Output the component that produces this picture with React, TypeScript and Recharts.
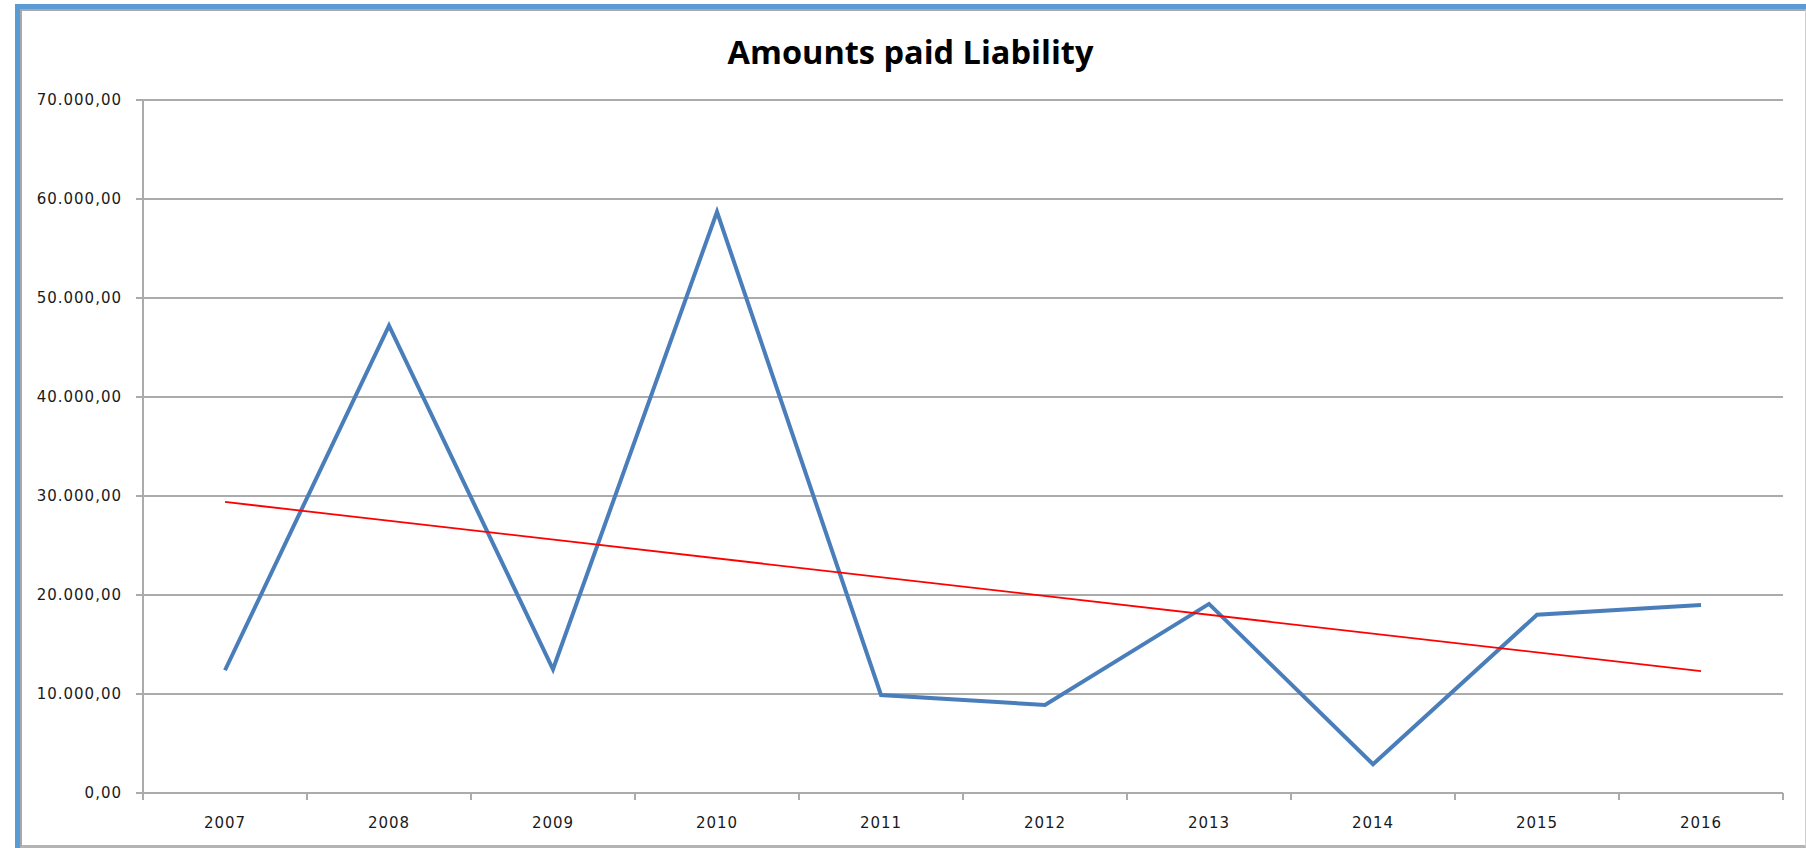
import { LineChart, Line, XAxis, YAxis, CartesianGrid } from "recharts";

const years = ["2007", "2008", "2009", "2010", "2011", "2012", "2013", "2014", "2015", "2016"];
const amounts = [12400, 47200, 12500, 58700, 9900, 8900, 19100, 2900, 18000, 19000];
// trendline ends; the middle stays empty and gets bridged
const trend = [29400, null, null, null, null, null, null, null, null, 12300];
const yTicks = [0, 10000, 20000, 30000, 40000, 50000, 60000, 70000];

const W = 1806;
const H = 848;
const margin = { top: 100, right: 23, bottom: 0, left: 0 };
const yAxisWidth = 143;
const xAxisHeight = 55;
const bandWidth = (W - margin.left - margin.right - yAxisWidth) / years.length;

const chartData = years.map((year, i) => ({
  year,
  amount: amounts[i],
  trend: trend[i],
}));

const fmt = (v: number) => {
  const whole = Math.floor(v)
    .toString()
    .replace(/\B(?=(\d{3})+(?!\d))/g, ".");
  return `${whole},00`;
};

const tickFont = {
  fontFamily: "DejaVu Sans",
  fontSize: 15,
  letterSpacing: 1,
  fill: "#1a1a1a",
};

const YearTick = (props: any) => {
  const { x, y, payload, index } = props;
  const left = x - bandWidth / 2;
  const isLast = index === years.length - 1;
  return (
    <g>
      <line x1={left} y1={y} x2={left} y2={y + 7} stroke="#ababab" strokeWidth={2} />
      {isLast && (
        <line x1={x + bandWidth / 2} y1={y} x2={x + bandWidth / 2} y2={y + 7} stroke="#ababab" strokeWidth={2} />
      )}
      <text x={x} y={y + 35} textAnchor="middle" {...tickFont}>
        {payload.value}
      </text>
    </g>
  );
};

export default function App() {
  return (
    <div
      style={{
        position: "absolute",
        left: 0,
        top: 0,
        width: W,
        height: H,
        background: "#fff",
        overflow: "hidden",
      }}
    >
      {/* frame: blue edge top/left, thin grey inside */}
      <div
        style={{
          position: "absolute",
          left: 15,
          top: 4,
          right: 0,
          bottom: 0,
          borderTop: "5px solid #5b9bd5",
          borderLeft: "5px solid #5b9bd5",
          boxSizing: "border-box",
        }}
      >
        <div
          style={{
            position: "absolute",
            inset: 0,
            borderTop: "2px solid #a9a9a9",
            borderLeft: "2px solid #a9a9a9",
            borderRight: "1px solid #d0d0d0",
            borderBottom: "3px solid #b4b4b4",
          }}
        />
      </div>

      <div
        style={{
          position: "absolute",
          left: 15,
          right: 0,
          top: 31,
          textAlign: "center",
          fontFamily: "Open Sans",
          fontWeight: 700,
          fontSize: 32.5,
          lineHeight: "42px",
          color: "#000",
        }}
      >
        Amounts paid Liability
      </div>

      <div style={{ position: "absolute", left: 0, top: 0 }}>
        <LineChart width={W} height={H} data={chartData} margin={margin}>
          <CartesianGrid vertical={false} stroke="#ababab" strokeWidth={2} />
          <XAxis
            dataKey="year"
            scale="band"
            height={xAxisHeight}
            axisLine={{ stroke: "#ababab", strokeWidth: 2 }}
            tickLine={false}
            tickSize={0}
            tickMargin={0}
            interval={0}
            tick={<YearTick />}
          />
          <YAxis
            width={yAxisWidth}
            domain={[0, 70000]}
            ticks={yTicks}
            tickFormatter={fmt}
            axisLine={{ stroke: "#ababab", strokeWidth: 2 }}
            tickLine={{ stroke: "#ababab", strokeWidth: 2 }}
            tickSize={7}
            tickMargin={14}
            tick={tickFont}
          />
          <Line
            type="linear"
            dataKey="amount"
            stroke="#4a7ebb"
            strokeWidth={4}
            dot={false}
            isAnimationActive={false}
          />
          <Line
            type="linear"
            dataKey="trend"
            stroke="#ff0000"
            strokeWidth={1.8}
            dot={false}
            connectNulls
            isAnimationActive={false}
          />
        </LineChart>
      </div>
    </div>
  );
}
